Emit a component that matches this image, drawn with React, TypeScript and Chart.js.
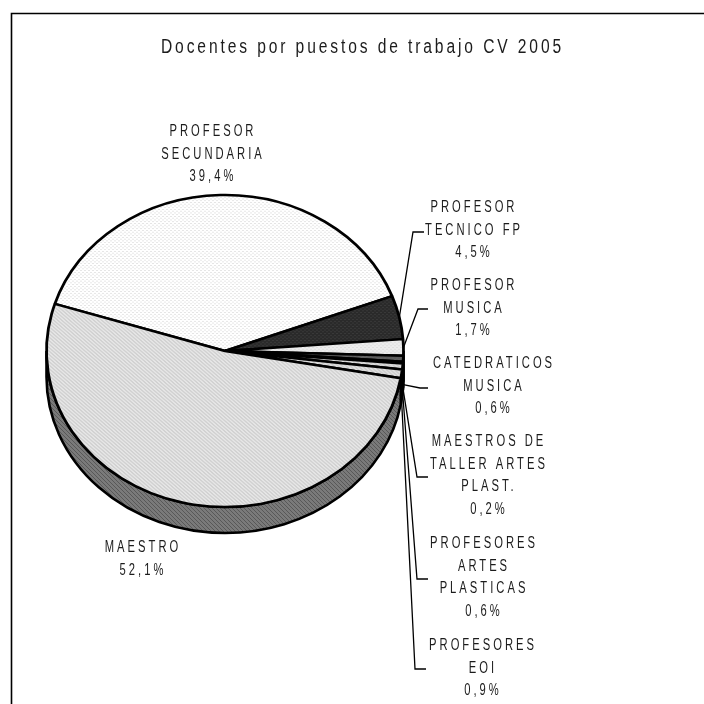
import React, { useEffect, useRef } from "react";
import { Chart, registerables } from "chart.js";

Chart.register(...registerables);

const titleText = "Docentes por puestos de trabajo CV 2005";
const categories = [
  "PROFESOR SECUNDARIA",
  "PROFESOR TECNICO FP",
  "PROFESOR MUSICA",
  "CATEDRATICOS MUSICA",
  "MAESTROS DE TALLER ARTES PLAST.",
  "PROFESORES ARTES PLASTICAS",
  "PROFESORES EOI",
  "MAESTRO",
];
const labelLines = [
  ["PROFESOR", "SECUNDARIA"],
  ["PROFESOR", "TECNICO FP"],
  ["PROFESOR", "MUSICA"],
  ["CATEDRATICOS", "MUSICA"],
  ["MAESTROS DE", "TALLER ARTES", "PLAST."],
  ["PROFESORES", "ARTES", "PLASTICAS"],
  ["PROFESORES", "EOI"],
  ["MAESTRO"],
];
const percentages = [39.4, 4.5, 1.7, 0.6, 0.2, 0.6, 0.9, 52.1];

// Layout (not data)
const PIE = { cx: 225, cy: 351, r: 178.5, squash: 0.874, depth: 26, rotation: -72.4 };
const TITLE_CENTER_X = 362.5;
const TITLE_STRETCH = 0.78;
const LABEL_STRETCH = 0.7;
const labelAnchors = [
  { x: 213, y: 132 },
  { x: 474, y: 208 },
  { x: 474, y: 286 },
  { x: 494, y: 364 },
  { x: 489, y: 442 },
  { x: 484, y: 544 },
  { x: 483, y: 646 },
  { x: 143, y: 548 },
];
const leaderPaths: (null | number[][])[] = [
  null,
  [[413, 232], [424, 232]],
  [[418, 309], [428, 309]],
  [[420, 388], [428, 388]],
  [[417, 477], [428, 477]],
  [[417, 579], [428, 579]],
  [[415, 669], [426, 669]],
  null,
];
const topFills = [
  { bg: "#ffffff", fg: "#c8c8c8", kind: "dots" },
  { bg: "#2a2a2a", fg: "#4a4a4a", kind: "dots" },
  { bg: "#ececec", fg: "#cfcfcf", kind: "dots" },
  { bg: "#5c5c5c", fg: "#707070", kind: "dots" },
  { bg: "#303030", fg: "#404040", kind: "dots" },
  { bg: "#dddddd", fg: "#bbbbbb", kind: "hatch" },
  { bg: "#e0e0e0", fg: "#bbbbbb", kind: "hatch" },
  { bg: "#e6e6e6", fg: "#bcbcbc", kind: "hatch" },
];
const sideFills = [
  { bg: "#ffffff", fg: "#d0d0d0", kind: "dots" },
  { bg: "#111111", fg: "#222222", kind: "dots" },
  { bg: "#333333", fg: "#444444", kind: "dots" },
  { bg: "#111111", fg: "#222222", kind: "dots" },
  { bg: "#111111", fg: "#222222", kind: "dots" },
  { bg: "#222222", fg: "#333333", kind: "hatch" },
  { bg: "#222222", fg: "#333333", kind: "hatch" },
  { bg: "#7a7a7a", fg: "#585858", kind: "hatch" },
];
const FONT = '"Liberation Sans", Arial, sans-serif';

function makePattern(f: { bg: string; fg: string; kind: string }) {
  const c = document.createElement("canvas");
  c.width = 4;
  c.height = 4;
  const x = c.getContext("2d")!;
  x.fillStyle = f.bg;
  x.fillRect(0, 0, 4, 4);
  x.fillStyle = f.fg;
  const cells =
    f.kind === "hatch"
      ? [[0, 0], [1, 1], [2, 2], [3, 3]]
      : [[0, 0], [2, 2]];
  cells.forEach(([a, b]) => x.fillRect(a, b, 1, 1));
  return x.createPattern(c, "repeat")!;
}

const piePlugin = {
  id: "tiltedPie",
  beforeDraw(chart: any) {
    const { ctx } = chart;
    ctx.save();
    ctx.strokeStyle = "#000";
    ctx.lineWidth = 1.6;
    ctx.beginPath();
    ctx.moveTo(704, 13.5);
    ctx.lineTo(11.5, 13.5);
    ctx.lineTo(11.5, 704);
    ctx.stroke();
    ctx.restore();
    // the reference's type is condensed: narrow the title drawn next
    ctx.save();
    ctx.translate(TITLE_CENTER_X, 0);
    ctx.scale(TITLE_STRETCH, 1);
    ctx.translate(-TITLE_CENTER_X, 0);
    ctx.letterSpacing = "3.7px";
  },
  beforeDatasetsDraw(chart: any) {
    const { ctx } = chart;
    ctx.restore();
    ctx.letterSpacing = "0px";
    const arcs = chart.getDatasetMeta(0).data;
    const ry = PIE.r * PIE.squash;
    const patterns = sideFills.map(makePattern);
    arcs.forEach((arc: any, i: number) => {
      const tau = Math.PI * 2;
      let a0 = arc.startAngle;
      let a1 = arc.endAngle;
      // normalise to look for the part facing the viewer (0..PI)
      while (a0 < 0) {
        a0 += tau;
        a1 += tau;
      }
      while (a0 >= tau) {
        a0 -= tau;
        a1 -= tau;
      }
      const ranges = [
        [Math.max(a0, 0), Math.min(a1, Math.PI)],
        [Math.max(a0, tau), Math.min(a1, tau + Math.PI)],
      ];
      ranges.forEach(([s, e]) => {
        if (e <= s) return;
        ctx.beginPath();
        ctx.ellipse(PIE.cx, PIE.cy, PIE.r, ry, 0, s, e);
        ctx.ellipse(PIE.cx, PIE.cy + PIE.depth, PIE.r, ry, 0, e, s, true);
        ctx.closePath();
        ctx.fillStyle = patterns[i];
        ctx.fill();
        ctx.strokeStyle = "#000";
        ctx.lineWidth = 2.6;
        ctx.stroke();
      });
    });
    const first = arcs[0];
    ctx.save();
    ctx.translate(PIE.cx, PIE.cy);
    ctx.scale(1, PIE.squash);
    ctx.translate(-first.x, -first.y);
  },
  afterDatasetsDraw(chart: any) {
    const { ctx } = chart;
    ctx.restore();
    const arcs = chart.getDatasetMeta(0).data;
    const ry = PIE.r * PIE.squash;

    // leader lines
    ctx.strokeStyle = "#000";
    ctx.lineWidth = 1.3;
    arcs.forEach((arc: any, i: number) => {
      const path = leaderPaths[i];
      if (!path) return;
      const mid = (arc.startAngle + arc.endAngle) / 2;
      const sx = PIE.cx + PIE.r * Math.cos(mid);
      let sy = PIE.cy + ry * Math.sin(mid);
      if (Math.sin(mid) > 0) sy += PIE.depth;
      ctx.beginPath();
      ctx.moveTo(sx, sy);
      path.forEach(([x, y]) => ctx.lineTo(x, y));
      ctx.stroke();
    });

    // labels
    ctx.fillStyle = "#1c1c1c";
    ctx.font = `16px ${FONT}`;
    ctx.letterSpacing = "4.3px";
    ctx.textAlign = "center";
    ctx.textBaseline = "middle";
    labelLines.forEach((lines, i) => {
      const anchor = labelAnchors[i];
      const pct = percentages[i].toFixed(1).replace(".", ",") + "%";
      [...lines, pct].forEach((t, j) => {
        ctx.save();
        ctx.translate(anchor.x, anchor.y + j * 22.5);
        ctx.scale(LABEL_STRETCH, 1);
        ctx.fillText(t, 0, 0);
        ctx.restore();
      });
    });
    ctx.letterSpacing = "0px";
  },
};

export default function App() {
  const ref = useRef<HTMLCanvasElement>(null);
  useEffect(() => {
    document.body.style.margin = "0";
    const chart = new Chart(ref.current!, {
      type: "pie",
      data: {
        labels: categories,
        datasets: [
          {
            data: percentages,
            backgroundColor: topFills.map(makePattern),
            borderColor: "#000",
            borderWidth: 2.8,
            clip: false,
          } as any,
        ],
      },
      options: {
        animation: false,
        responsive: false,
        rotation: PIE.rotation,
        radius: PIE.r,
        events: [],
        layout: { padding: { left: 21, right: 0, top: 0, bottom: 0 } },
        plugins: {
          legend: { display: false },
          tooltip: { enabled: false },
          title: {
            display: true,
            text: titleText,
            color: "#1c1c1c",
            font: { family: FONT, size: 20, weight: "normal" },
            padding: { top: 35, bottom: 10 },
          },
        },
      } as any,
      plugins: [piePlugin],
    });
    return () => chart.destroy();
  }, []);
  return (
    <canvas
      ref={ref}
      width={704}
      height={704}
      style={{ display: "block", position: "fixed", left: 0, top: 0, width: 704, height: 704 }}
    />
  );
}
